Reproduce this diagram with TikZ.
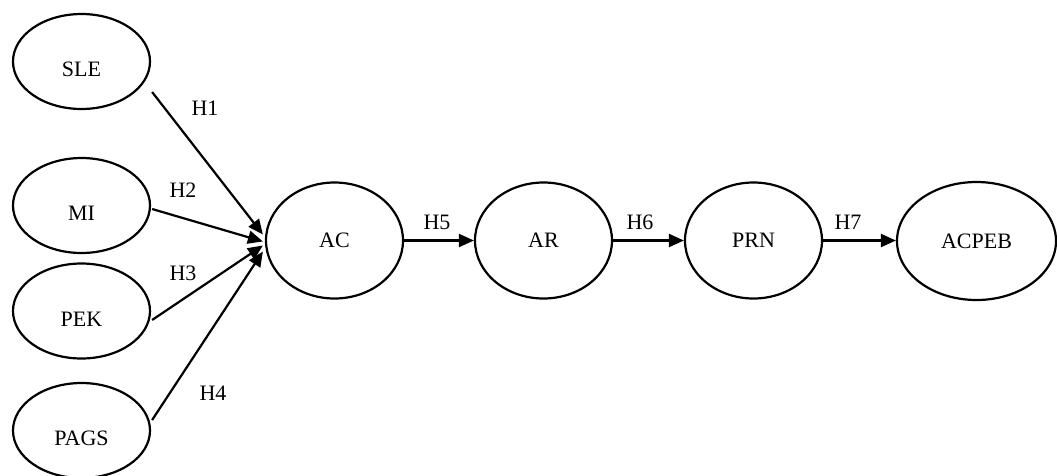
\documentclass[tikz,border=0pt]{standalone}
\usepackage{fontspec}
\setmainfont{Liberation Serif}
\usetikzlibrary{shapes.geometric,arrows.meta,calc}
\begin{document}
\begin{tikzpicture}[x=1pt,y=-1pt,
  every node/.style={font=\fontsize{22}{26}\selectfont},
  var/.style={ellipse,draw,line width=2.2pt,inner sep=0pt,minimum width=137pt,minimum height=95pt,text height=30pt,text depth=0pt},
  mid/.style={ellipse,draw,line width=2.2pt,inner sep=0pt,minimum width=137pt,minimum height=116pt},
  link/.style={line width=2.2pt,-{Triangle[length=15pt,width=13pt]}},
  hyp/.style={inner sep=0pt}]
\useasboundingbox (0,0) rectangle (1057,475);
\node[var] (sle) at (81.5,61.5) {SLE};
\node[var] (mi) at (81.5,205.5) {MI};
\node[var] (pek) at (81.5,311) {PEK};
\node[var] (pags) at (81.5,430.5) {PAGS};
\node[mid] (ac) at (334.5,240.5) {AC};
\node[mid] (ar) at (543.5,240.5) {AR};
\node[mid] (prn) at (753.5,240.5) {PRN};
\node[mid,minimum width=159pt,minimum height=118pt] (acpeb) at (976.5,241) {ACPEB};
\draw[link] (sle.east) ++(1,30.5) -- ($(ac.west)+(-2,-6)$);
\draw[link] (mi.east) ++(1,3.5) -- ($(ac.west)+(-2,1)$);
\draw[link] (pek.east) ++(1,9) -- ($(ac.west)+(-2,5)$);
\draw[link] (pags.east) ++(1,-10.5) -- ($(ac.west)+(-2,11)$);
\draw[link] (ac.east) -- (ar.west);
\draw[link] (ar.east) -- (prn.west);
\draw[link] (prn.east) -- (prn.east -| acpeb.west);
\node[hyp] (h1) at (205,108) {H1};
\node[hyp] (h2) at (183,190) {H2};
\node[hyp] (h3) at (183,273) {H3};
\node[hyp] (h4) at (213,393) {H4};
\node[hyp] (h5) at (437,222) {H5};
\node[hyp] (h6) at (640,222) {H6};
\node[hyp] (h7) at (848,222) {H7};
\end{tikzpicture}
\end{document}
